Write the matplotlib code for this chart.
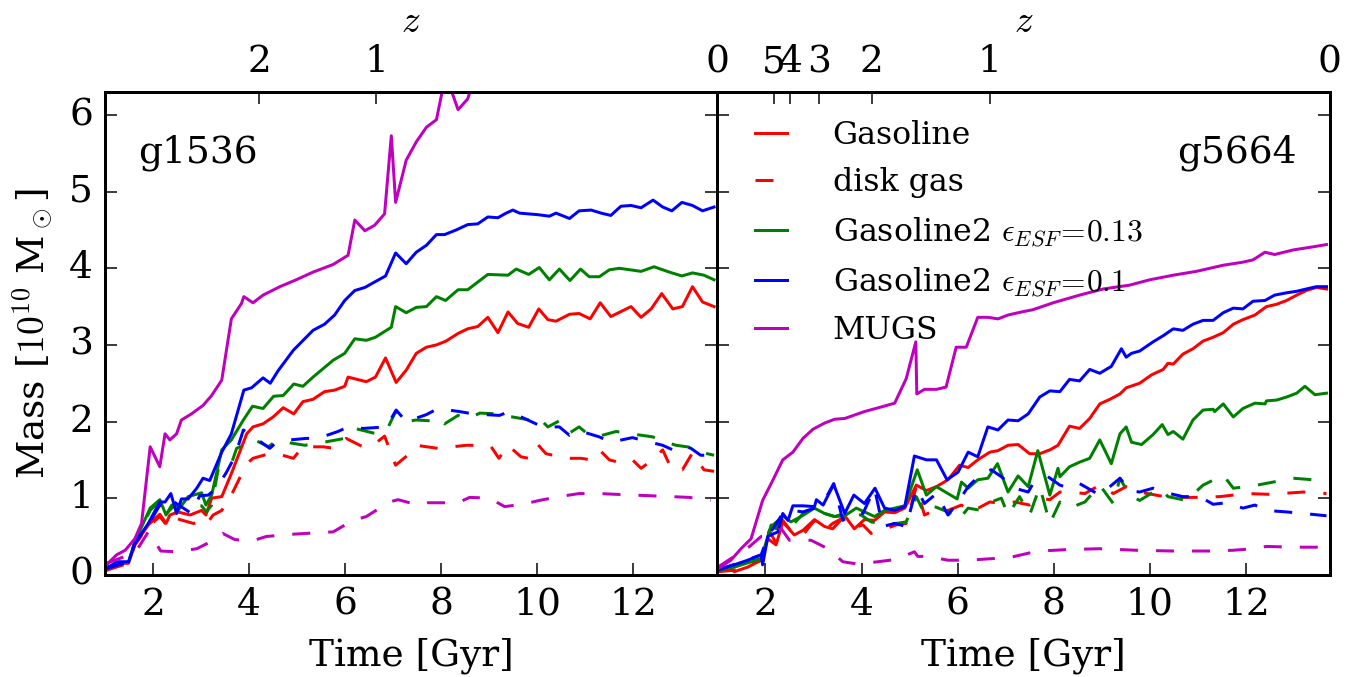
import matplotlib
matplotlib.use('Agg')
import matplotlib.pyplot as plt

# ---- g1536 (left panel) ----
t_a_gas = [1.03, 1.24, 1.49, 1.62, 1.9, 2.14, 2.27, 2.35, 2.52, 2.77, 3.01, 3.1, 3.22, 3.43, 3.63, 3.95, 4.08,
           4.29, 4.5, 4.71, 4.93, 5.12, 5.33, 5.57, 5.78, 5.99, 6.06, 6.44, 6.63, 6.84, 7.06, 7.27, 7.48, 7.69,
           7.9, 8.1, 8.35, 8.55, 8.76, 8.97, 9.18, 9.39, 9.59, 9.82, 10.03, 10.22, 10.39, 10.67, 10.87, 11.1,
           11.31, 11.53, 11.95, 12.16, 12.37, 12.59, 12.82, 13.02, 13.23, 13.44, 13.68]
m_a_gas = [0.06, 0.15, 0.15, 0.39, 0.65, 0.79, 0.67, 0.78, 0.82, 0.78, 0.84, 0.78, 1.0, 1.02, 1.32, 1.84, 1.93,
           1.97, 2.06, 2.18, 2.1, 2.26, 2.29, 2.39, 2.41, 2.46, 2.58, 2.52, 2.58, 2.83, 2.51, 2.67, 2.89, 2.97,
           3.0, 3.05, 3.15, 3.21, 3.24, 3.36, 3.16, 3.43, 3.28, 3.23, 3.47, 3.33, 3.31, 3.4, 3.41, 3.34,
           3.55, 3.37, 3.5, 3.36, 3.47, 3.67, 3.47, 3.5, 3.76, 3.56, 3.5]

t_a_disk = [1.03, 1.49, 1.62, 1.9, 2.14, 2.28, 2.39, 2.56, 2.84, 3.01, 3.1, 3.25, 3.43, 3.63, 3.95, 4.08, 4.36,
            4.53, 4.92, 5.12, 5.54, 5.78, 6.02, 6.37, 6.58, 6.82, 7.05, 7.3, 7.48, 7.93, 8.52, 8.8, 9.04, 9.2,
            9.39, 9.66, 9.82, 10.01, 10.18, 10.63, 10.91, 11.12, 11.31, 11.5, 11.74, 11.98, 12.16, 12.4, 12.61,
            12.8, 13.02, 13.23, 13.47, 13.68]
m_a_disk = [0.06, 0.15, 0.39, 0.63, 0.76, 0.65, 0.76, 0.72, 0.67, 0.69, 0.65, 0.78, 0.84, 1.04, 1.45, 1.52, 1.57,
            1.59, 1.52, 1.67, 1.67, 1.65, 1.78, 1.67, 1.69, 1.81, 1.43, 1.56, 1.69, 1.65, 1.69, 1.69, 1.67, 1.52,
            1.69, 1.54, 1.52, 1.7, 1.58, 1.52, 1.52, 1.5, 1.62, 1.5, 1.46, 1.5, 1.39, 1.5, 1.63,
            1.37, 1.37, 1.59, 1.37, 1.35]

t_a_g2a = [1.03, 1.49, 1.62, 1.94, 2.14, 2.27, 2.39, 2.52, 2.73, 3.01, 3.1, 3.22, 3.43, 3.63, 3.88, 4.07, 4.29,
           4.51, 4.71, 4.93, 5.12, 5.33, 5.75, 5.99, 6.2, 6.44, 6.63, 6.96, 7.05, 7.27, 7.48, 7.69, 7.9, 8.09,
           8.35, 8.55, 8.97, 9.39, 9.56, 9.82, 10.04, 10.25, 10.46, 10.68, 10.9, 11.08, 11.29, 11.5, 11.71,
           12.16, 12.43, 12.75, 13.01, 13.23, 13.47, 13.68]
m_a_g2a = [0.1, 0.17, 0.43, 0.87, 0.98, 0.78, 0.91, 0.84, 1.02, 1.07, 0.91, 1.04, 1.63, 1.76, 2.02, 2.2, 2.17,
           2.33, 2.34, 2.49, 2.46, 2.58, 2.8, 2.89, 3.08, 3.06, 3.1, 3.23, 3.5, 3.42, 3.49, 3.5, 3.63, 3.58,
           3.72, 3.72, 3.92, 3.91, 3.99, 3.92, 4.01, 3.85, 3.99, 3.84, 3.99, 3.89, 3.89, 3.98, 4.0,
           3.96, 4.02, 3.95, 3.9, 3.94, 3.91, 3.85]

t_a_g2a_disk = [1.03, 1.49, 1.62, 1.94, 2.14, 2.28, 2.42, 2.63, 3.01, 3.11, 3.22, 3.36, 3.5, 3.63, 3.74, 3.95,
                4.12, 4.4, 4.57, 5.16, 5.47, 5.99, 6.2, 6.65, 6.86, 7.05, 7.27, 7.48, 7.76, 7.9, 8.07, 8.35,
                8.55, 8.8, 9.18, 9.39, 9.84, 10.01, 10.22, 10.46, 10.67, 10.87, 11.08, 11.29, 11.64, 11.95,
                12.4, 12.68, 12.89, 13.23, 13.47, 13.68]
m_a_g2a_disk = [0.1, 0.17, 0.43, 0.84, 0.97, 0.8, 0.89, 0.91, 0.9, 0.82, 0.91, 1.39, 1.41, 1.45, 1.65, 1.71,
                1.76, 1.67, 1.75, 1.69, 1.72, 1.78, 1.91, 1.84, 1.88, 2.13, 2.0, 2.02, 2.01, 2.06, 1.97, 2.08,
                2.03, 2.11, 2.1, 2.07, 2.02, 2.06, 1.93, 2.01, 1.85, 1.93, 1.82, 1.81, 1.87, 1.84,
                1.8, 1.73, 1.69, 1.66, 1.59, 1.56]

t_a_g2b = [1.03, 1.24, 1.49, 1.62, 1.9, 2.14, 2.25, 2.37, 2.49, 2.59, 2.73, 2.91, 3.04, 3.18, 3.43, 3.63, 3.89,
           4.05, 4.29, 4.44, 4.6, 4.92, 5.33, 5.57, 5.78, 5.99, 6.2, 6.41, 6.61, 6.84, 7.05, 7.27, 7.48, 7.69,
           7.9, 8.07, 8.31, 8.55, 8.76, 8.97, 9.18, 9.35, 9.49, 9.63, 10.01, 10.25, 10.39, 10.67, 10.87, 11.12,
           11.33, 11.53, 11.74, 11.95, 12.16, 12.41, 12.61, 12.8, 13.01, 13.23, 13.44, 13.68]
m_a_g2b = [0.08, 0.17, 0.17, 0.41, 0.67, 0.95, 0.95, 1.06, 0.8, 0.99, 0.99, 1.13, 1.26, 1.23, 1.6, 1.84, 2.41,
           2.44, 2.57, 2.5, 2.66, 2.93, 3.19, 3.27, 3.39, 3.58, 3.71, 3.75, 3.82, 3.9, 4.2, 4.06, 4.21, 4.3,
           4.44, 4.44, 4.5, 4.57, 4.58, 4.67, 4.66, 4.72, 4.76, 4.72, 4.7, 4.68, 4.72, 4.65, 4.75, 4.76,
           4.72, 4.69, 4.81, 4.82, 4.79, 4.89, 4.8, 4.75, 4.86, 4.82, 4.75, 4.8]

t_a_g2b_disk = [1.03, 1.49, 1.62, 1.9, 2.14, 2.27, 2.39, 2.63, 2.8, 2.97, 3.15, 3.32, 3.53, 3.7, 3.88, 4.05,
                4.43, 4.57, 4.85, 5.19, 5.43, 5.85, 6.06, 6.37, 6.86, 7.06, 7.27, 7.69, 7.93, 8.38, 8.66, 9.21,
                9.42, 9.87, 10.11, 10.46, 10.67, 10.87, 11.29, 11.53, 11.98, 12.16, 12.61, 12.82, 13.02, 13.2,
                13.4, 13.65]
m_a_g2b_disk = [0.08, 0.17, 0.41, 0.65, 0.91, 0.87, 0.97, 0.87, 0.8, 1.03, 1.04, 1.13, 1.34, 1.54, 1.89, 1.82,
                1.65, 1.73, 1.76, 1.78, 1.78, 1.87, 1.93, 1.91, 1.93, 2.15, 2.0, 2.09, 2.17, 2.13, 2.1, 2.08,
                2.13, 2.0, 1.93, 1.93, 1.82, 1.88, 1.8, 1.73, 1.79, 1.76, 1.69, 1.63, 1.69, 1.65,
                1.56, 1.56]

t_a_mugs = [1.03, 1.24, 1.42, 1.62, 1.76, 1.87, 1.94, 2.14, 2.25, 2.35, 2.49, 2.59, 2.8, 3.04, 3.22, 3.43, 3.63,
            3.84, 3.89, 4.08, 4.29, 4.64, 4.98, 5.33, 5.75, 6.06, 6.2, 6.41, 6.61, 6.82, 6.96, 7.05, 7.27, 7.48,
            7.69, 7.9, 8.03, 8.21, 8.35, 8.55, 8.7, 9.5, 11.0, 13.7]
m_a_mugs = [0.13, 0.26, 0.32, 0.47, 0.67, 1.28, 1.67, 1.41, 1.84, 1.76, 1.84, 2.02, 2.1, 2.21, 2.34, 2.54, 3.34,
            3.54, 3.63, 3.55, 3.65, 3.76, 3.85, 3.95, 4.05, 4.17, 4.63, 4.49, 4.56, 4.71, 5.73, 4.86, 5.41, 5.65,
            5.84, 5.94, 6.34, 6.32, 6.07, 6.21, 6.5, 6.9, 7.5, 8.0]

t_a_mugs_disk = [1.03, 1.42, 1.66, 1.9, 2.04, 2.16, 2.49, 2.91, 3.29, 3.45, 3.7, 4.05, 4.36, 4.92, 5.75, 6.16,
                 6.44, 6.92, 7.1, 7.52, 7.72, 8.35, 8.59, 9.0, 9.32, 9.7, 10.04, 10.46, 10.87, 11.29, 11.64,
                 12.4, 13.16, 13.61]
m_a_mugs_disk = [0.15, 0.24, 0.32, 0.56, 0.43, 0.31, 0.3, 0.34, 0.46, 0.54, 0.46, 0.44, 0.5, 0.53, 0.56, 0.71,
                 0.76, 0.95, 0.98, 0.91, 0.94, 0.94, 1.01, 1.0, 0.89, 0.92, 0.97, 1.02, 1.06, 1.06, 1.05,
                 1.03, 1.01, 0.97]

# ---- g5664 (right panel) ----
t_b_gas = [1.01, 1.28, 1.35, 1.63, 1.91, 2.05, 2.22, 2.36, 2.6, 2.78, 3.02, 3.23, 3.4, 3.65, 3.85, 4.06, 4.27,
           4.48, 4.69, 4.9, 5.14, 5.35, 5.56, 5.8, 6.04, 6.22, 6.42, 6.67, 6.84, 7.05, 7.26, 7.5, 7.71, 7.92,
           8.09, 8.33, 8.54, 8.75, 8.96, 9.17, 9.38, 9.51, 9.79, 10.04, 10.28, 10.38, 10.49, 10.69, 10.9, 11.11,
           11.32, 11.53, 11.74, 11.94, 12.19, 12.43, 12.64, 12.85, 13.06, 13.26, 13.47, 13.68]
m_b_gas = [0.04, 0.08, 0.04, 0.1, 0.19, 0.47, 0.39, 0.69, 0.52, 0.58, 0.72, 0.63, 0.6, 0.77, 0.6, 0.72, 0.71,
           0.82, 0.81, 0.87, 1.17, 1.1, 1.15, 1.24, 1.43, 1.4, 1.5, 1.6, 1.62, 1.69, 1.7, 1.58, 1.58, 1.63,
           1.69, 1.94, 1.91, 2.04, 2.23, 2.29, 2.36, 2.44, 2.5, 2.61, 2.68, 2.76, 2.75, 2.88, 2.95, 3.05,
           3.1, 3.16, 3.27, 3.33, 3.39, 3.5, 3.53, 3.58, 3.65, 3.71, 3.75, 3.73]

t_b_disk = [1.01, 1.35, 1.91, 2.08, 2.22, 2.36, 2.57, 2.78, 3.02, 3.23, 3.4, 3.61, 3.82, 4.03, 4.2, 4.41, 4.72,
            4.93, 5.14, 5.31, 5.52, 5.8, 6.08, 6.28, 6.67, 6.91, 7.19, 7.5, 7.71, 7.92, 8.13, 8.33, 8.65, 8.96,
            9.24, 9.51, 9.79, 10.21, 10.49, 10.97, 11.46, 12.01, 12.5, 13.2, 13.68]
m_b_disk = [0.04, 0.06, 0.19, 0.58, 0.41, 0.71, 0.54, 0.52, 0.71, 0.58, 0.67, 0.74, 0.61, 0.65, 0.54, 0.58, 0.65,
            0.67, 1.15, 0.78, 0.84, 0.84, 0.91, 0.82, 0.95, 0.93, 0.95, 0.91, 1.0, 0.98, 1.08, 1.08, 1.06, 1.17,
            1.06, 1.15, 1.08, 1.03, 1.01, 1.01, 1.02, 1.06, 1.05, 1.08, 1.06]

t_b_g2a = [1.01, 1.35, 1.91, 2.12, 2.22, 2.36, 2.53, 2.74, 3.02, 3.23, 3.44, 3.65, 3.89, 4.1, 4.27, 4.48, 4.9,
           5.16, 5.35, 5.56, 5.8, 5.99, 6.08, 6.22, 6.42, 6.63, 6.83, 7.05, 7.26, 7.47, 7.67, 7.92, 8.09, 8.13,
           8.33, 8.54, 8.75, 8.96, 9.2, 9.38, 9.51, 9.62, 9.83, 10.07, 10.26, 10.38, 10.49, 10.69, 10.9, 11.11,
           11.32, 11.35, 11.53, 11.74, 11.94, 12.19, 12.4, 12.43, 12.64, 12.85, 13.06, 13.23, 13.44, 13.68]
m_b_g2a = [0.06, 0.1, 0.21, 0.65, 0.6, 0.77, 0.69, 0.76, 0.87, 0.8, 0.76, 0.77, 0.87, 0.81, 0.76, 0.84, 0.9,
           1.37, 1.04, 1.15, 1.06, 0.99, 1.21, 1.13, 1.24, 1.26, 1.45, 1.08, 1.29, 1.15, 1.62, 1.04, 1.39, 1.28,
           1.41, 1.47, 1.52, 1.76, 1.45, 1.84, 1.93, 1.73, 1.7, 1.83, 1.96, 1.83, 1.87, 1.77, 2.02, 2.15,
           2.16, 2.13, 2.23, 2.06, 2.17, 2.24, 2.23, 2.27, 2.28, 2.32, 2.37, 2.46, 2.35, 2.37]

t_b_g2a_disk = [1.01, 1.91, 2.12, 2.36, 2.6, 2.81, 3.02, 3.23, 3.44, 3.65, 3.99, 4.2, 4.41, 4.72, 4.93, 5.14,
                5.31, 5.52, 5.8, 6.01, 6.22, 6.49, 6.7, 6.91, 7.05, 7.29, 7.5, 7.71, 7.92, 8.13, 8.33, 8.65,
                8.96, 9.24, 9.38, 9.58, 9.79, 10.21, 10.38, 10.76, 11.11, 11.53, 11.74, 12.15, 12.57, 12.99,
                13.4, 13.68]
m_b_g2a_disk = [0.06, 0.21, 0.63, 0.76, 0.67, 0.82, 0.87, 0.8, 0.76, 0.8, 0.78, 0.69, 0.67, 0.67, 0.69, 1.02,
                0.8, 0.89, 0.82, 0.71, 0.87, 0.84, 0.95, 1.0, 0.78, 1.02, 0.78, 1.15, 0.67, 0.95, 0.87, 0.95,
                1.17, 0.93, 1.26, 1.04, 0.97, 1.13, 1.02, 0.97, 1.17, 1.3, 1.13, 1.16, 1.21, 1.26,
                1.24, 1.2]

t_b_g2b = [1.01, 1.35, 1.63, 1.91, 1.94, 2.05, 2.15, 2.26, 2.36, 2.47, 2.57, 2.78, 3.02, 3.06, 3.2, 3.42, 3.65,
           3.84, 4.06, 4.28, 4.48, 4.69, 4.9, 5.1, 5.35, 5.56, 5.78, 6.01, 6.22, 6.42, 6.63, 6.84, 7.05, 7.26,
           7.47, 7.71, 7.92, 8.13, 8.33, 8.54, 8.75, 8.96, 9.2, 9.41, 9.51, 9.62, 9.79, 10.07, 10.28, 10.49,
           10.69, 10.9, 11.11, 11.32, 11.53, 11.74, 11.94, 12.15, 12.4, 12.6, 12.85, 13.06, 13.26, 13.47, 13.68]
m_b_g2b = [0.07, 0.13, 0.19, 0.26, 0.13, 0.5, 0.53, 0.56, 0.8, 0.71, 0.9, 0.9, 0.89, 0.98, 0.91, 1.18, 0.8,
           1.04, 0.93, 1.13, 0.87, 0.84, 0.89, 1.55, 1.5, 1.5, 1.24, 1.34, 1.6, 1.54, 1.93, 1.89, 2.02, 2.01,
           2.1, 2.32, 2.4, 2.39, 2.55, 2.53, 2.68, 2.63, 2.72, 2.95, 2.84, 2.89, 2.92, 3.04, 3.12, 3.21,
           3.19, 3.27, 3.32, 3.32, 3.42, 3.48, 3.47, 3.57, 3.58, 3.65, 3.68, 3.7, 3.73, 3.76, 3.76]

t_b_g2b_disk = [1.01, 1.91, 2.05, 2.36, 2.57, 2.78, 3.02, 3.23, 3.42, 3.61, 3.82, 4.03, 4.27, 4.44, 4.69, 4.93,
                5.14, 5.31, 5.56, 5.8, 6.01, 6.22, 6.49, 6.7, 6.91, 7.19, 7.47, 7.57, 7.88, 8.13, 8.33, 8.54,
                8.96, 9.38, 9.58, 9.79, 10.07, 10.35, 10.69, 11.04, 11.32, 11.6, 11.94, 12.19, 12.43, 12.85,
                13.2, 13.68]
m_b_g2b_disk = [0.06, 0.26, 0.5, 0.8, 0.84, 0.82, 0.87, 0.97, 1.19, 0.71, 0.8, 0.8, 1.13, 0.63, 0.67, 0.63,
                1.13, 0.93, 1.06, 0.78, 0.95, 1.15, 1.32, 1.37, 1.28, 1.13, 1.08, 1.19, 1.28, 1.17, 1.13, 1.19,
                1.04, 1.26, 1.1, 1.08, 1.13, 1.07, 1.02, 1.02, 0.92, 0.94, 0.87, 0.91, 0.84, 0.82,
                0.8, 0.77]

t_b_mugs = [1.01, 1.28, 1.49, 1.7, 1.94, 2.15, 2.36, 2.57, 2.78, 2.99, 3.23, 3.44, 3.65, 4.06, 4.41, 4.69, 4.93,
            5.13, 5.15, 5.31, 5.56, 5.76, 5.97, 6.18, 6.42, 6.63, 6.84, 7.05, 7.33, 7.57, 7.99, 8.54, 9.03, 9.58,
            10.0, 10.49, 10.97, 11.53, 11.94, 12.15, 12.4, 12.6, 12.99, 13.4, 13.68]
m_b_mugs = [0.08, 0.19, 0.34, 0.47, 0.97, 1.23, 1.5, 1.6, 1.78, 1.9, 1.98, 2.03, 2.04, 2.13, 2.19, 2.24, 2.56,
            3.04, 2.36, 2.42, 2.42, 2.45, 2.97, 2.97, 3.36, 3.36, 3.34, 3.39, 3.43, 3.46, 3.55, 3.65, 3.73, 3.78,
            3.85, 3.91, 3.96, 4.04, 4.08, 4.11, 4.21, 4.18, 4.24, 4.28, 4.31]

t_b_mugs_disk = [1.01, 1.35, 1.67, 1.91, 1.98, 2.33, 2.5, 2.95, 3.3, 3.61, 3.92, 4.34, 4.72, 5.1, 5.17, 5.38,
                 5.8, 6.22, 6.7, 7.12, 7.53, 7.71, 8.33, 8.96, 9.72, 10.49, 11.32, 11.74, 12.15, 12.43, 12.99,
                 13.61]
m_b_mugs_disk = [0.1, 0.24, 0.37, 0.5, 0.5, 0.6, 0.45, 0.45, 0.34, 0.17, 0.14, 0.17, 0.2, 0.3, 0.24, 0.24,
                 0.19, 0.19, 0.21, 0.23, 0.29, 0.31, 0.33, 0.34, 0.32, 0.31, 0.31, 0.32, 0.34, 0.37, 0.36,
                 0.36]

# redshift ticks on the top axes (position in Gyr of the lower axis, label)
z_pos_a = [4.21, 6.65, 13.75]
z_lab_a = ['2', '1', '0']
z_pos_b = [2.17, 2.52, 3.11, 4.21, 6.67, 13.75]
z_lab_b = ['5', '4', '3', '2', '1', '0']

labels = ['Gasoline', 'disk gas', r'Gasoline2 $\epsilon_{ESF}\!=\!0.13$',
          r'Gasoline2 $\epsilon_{ESF}\!=\!0.1$', 'MUGS']

plt.style.use('classic')
plt.rcParams['font.family'] = 'serif'
plt.rcParams['font.serif'] = ['DejaVu Serif']
plt.rcParams['mathtext.fontset'] = 'cm'
plt.rcParams['figure.facecolor'] = 'white'
plt.rcParams['savefig.facecolor'] = 'white'
plt.rcParams['font.size'] = 12.5


def plot_panel(ax, solid, dashed, zpos, zlab, name, name_x, name_ha):
    colors = ['r', 'g', 'b', 'm']
    for (t, m), (td, md), c in zip(solid, dashed, colors):
        ax.plot(t, m, color=c, ls='-')
        ax.plot(td, md, color=c, ls='--')
    ax.set_xlim(1.0, 13.75)
    ax.set_ylim(0, 6.3)
    ax.set_xticks([2, 4, 6, 8, 10, 12])
    ax.set_xlabel('Time [Gyr]')
    ax.text(name_x, 0.875, name, transform=ax.transAxes, ha=name_ha, va='center')

    top = ax.twiny()
    top.set_xlim(ax.get_xlim())
    top.set_xticks(zpos)
    top.set_xticklabels(zlab)
    top.set_xlabel('$z$', labelpad=4)
    return top


fig, (ax1, ax2) = plt.subplots(1, 2, sharey=True, figsize=(1357 / 216.0, 677 / 216.0), dpi=216)
fig.subplots_adjust(left=0.0774, right=0.980, bottom=0.151, top=0.864, wspace=0)

plot_panel(ax1,
           [(t_a_gas, m_a_gas), (t_a_g2a, m_a_g2a), (t_a_g2b, m_a_g2b), (t_a_mugs, m_a_mugs)],
           [(t_a_disk, m_a_disk), (t_a_g2a_disk, m_a_g2a_disk), (t_a_g2b_disk, m_a_g2b_disk),
            (t_a_mugs_disk, m_a_mugs_disk)],
           z_pos_a, z_lab_a, 'g1536', 0.054, 'left')
plot_panel(ax2,
           [(t_b_gas, m_b_gas), (t_b_g2a, m_b_g2a), (t_b_g2b, m_b_g2b), (t_b_mugs, m_b_mugs)],
           [(t_b_disk, m_b_disk), (t_b_g2a_disk, m_b_g2a_disk), (t_b_g2b_disk, m_b_g2b_disk),
            (t_b_mugs_disk, m_b_mugs_disk)],
           z_pos_b, z_lab_b, 'g5664', 0.946, 'right')

ax1.set_ylabel(r'Mass [$10^{10}$ M$_\odot$]')
ax1.set_yticks([0, 1, 2, 3, 4, 5, 6])
plt.setp(ax2.get_yticklabels(), visible=False)

# legend: entries in the order of the reference
h = ax2.get_lines()
ax2.legend([h[0], h[1], h[2], h[4], h[6]], labels, loc='upper left', bbox_to_anchor=(0.026, 0.968),
           borderaxespad=0, frameon=False, fontsize=10.5, handlelength=1.6, handletextpad=1.15,
           labelspacing=0.52)

fig.savefig('out.png', dpi=216)
